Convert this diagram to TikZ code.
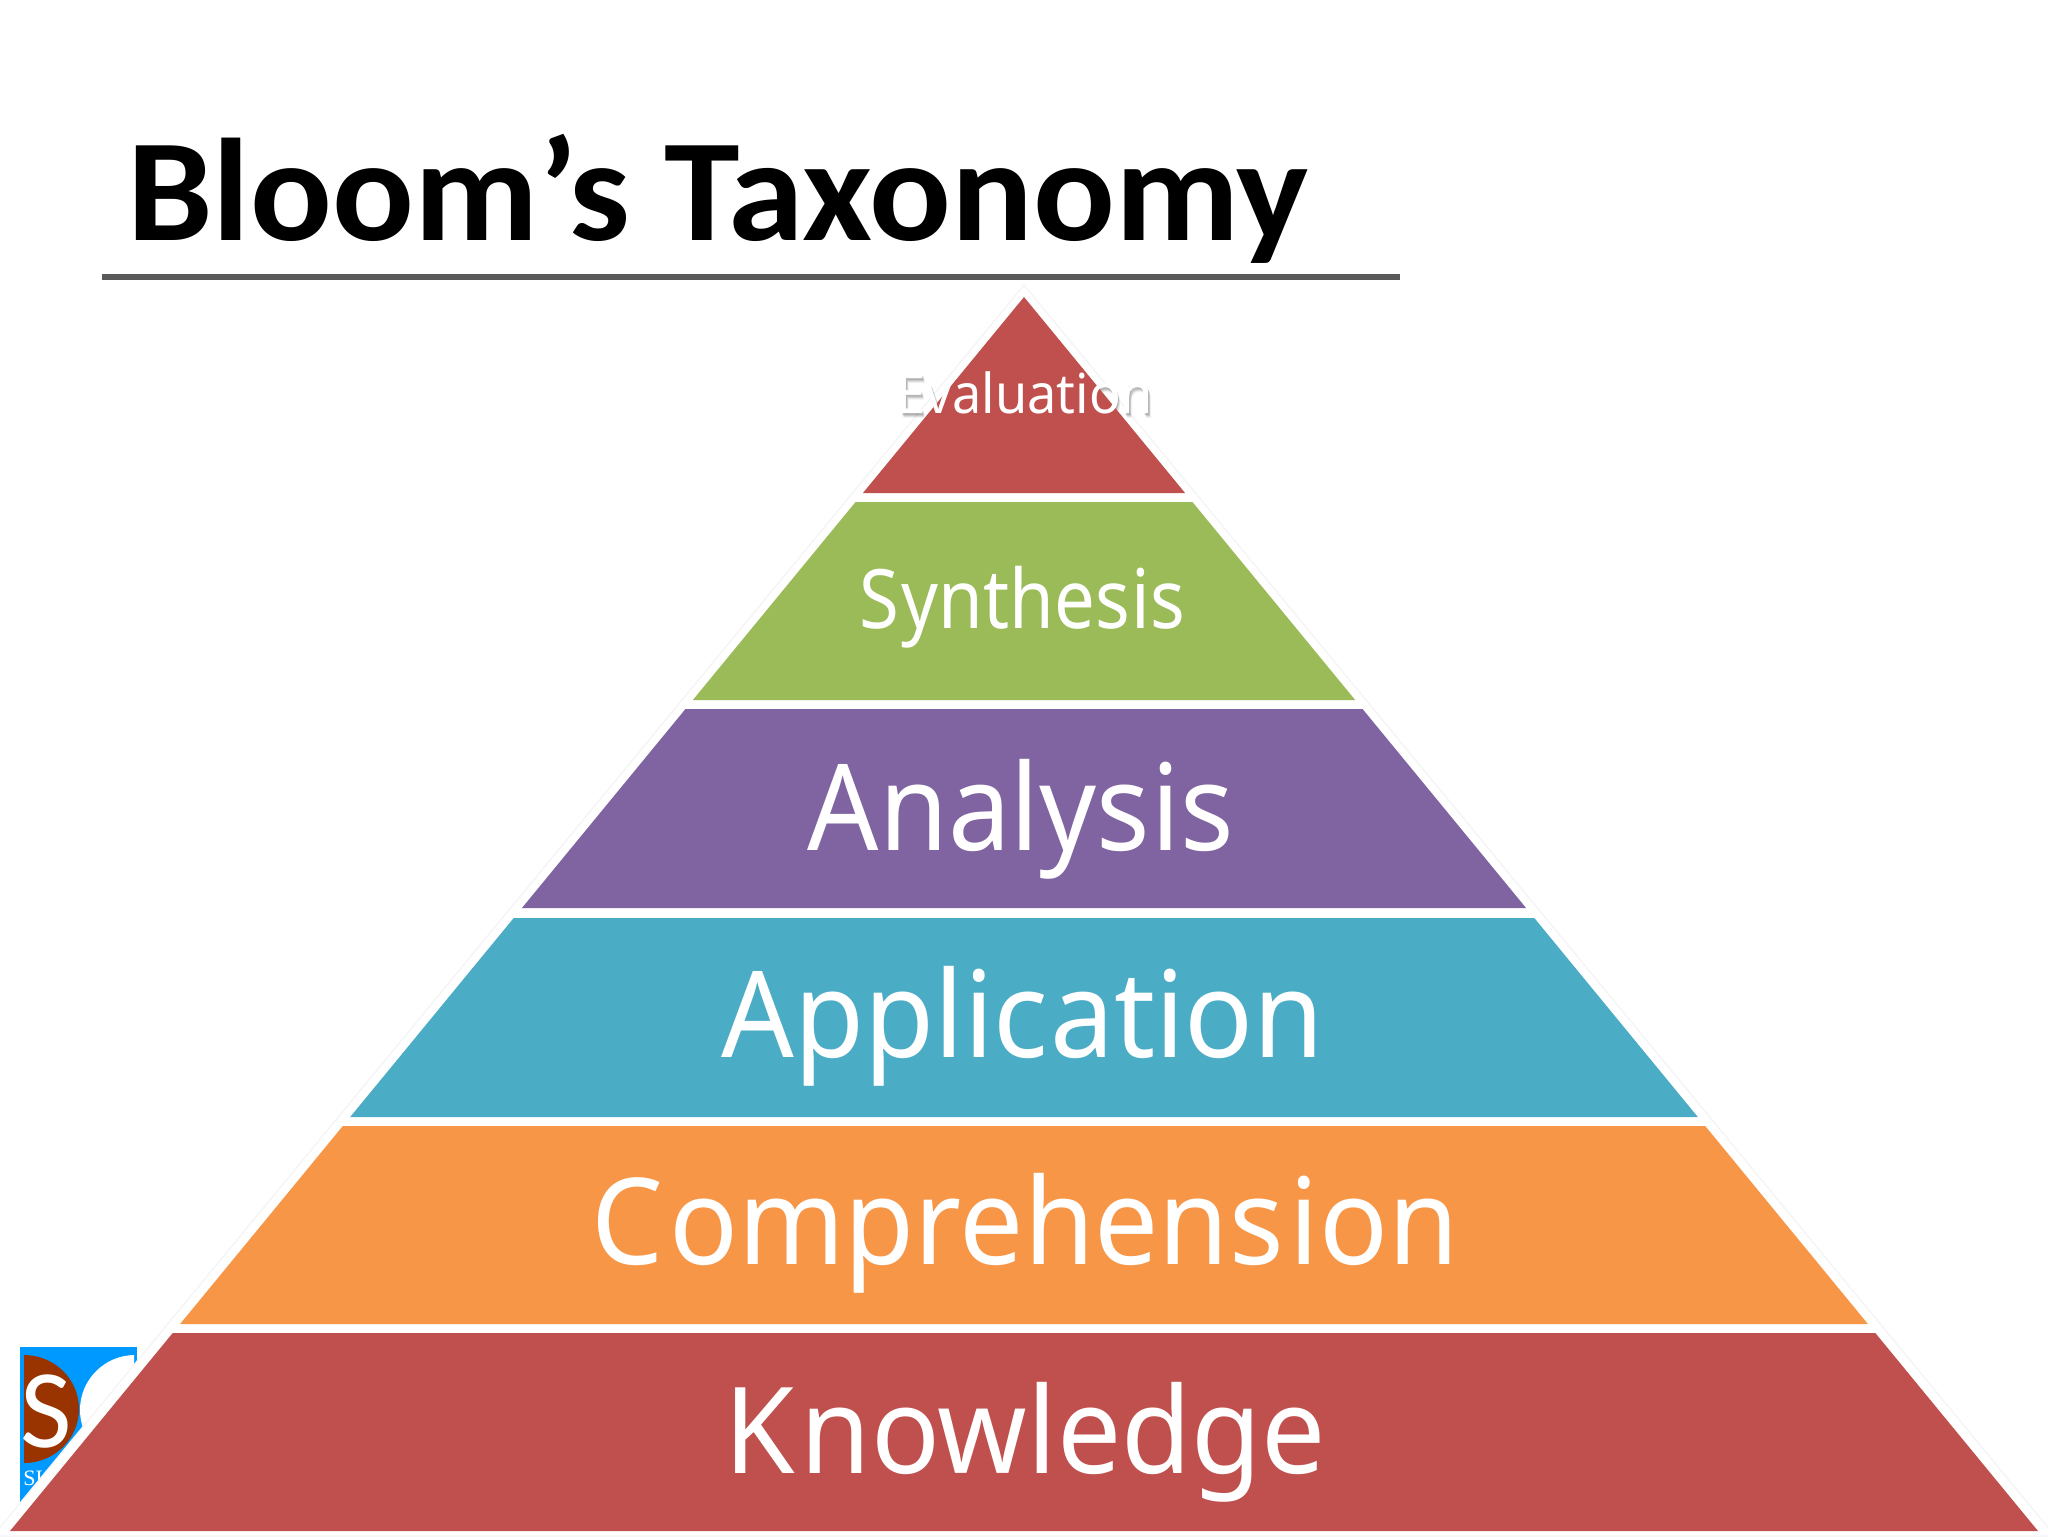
\documentclass[tikz,border=0pt]{standalone}
\usepackage{fontspec}
\setmainfont{Carlito}
\newfontfamily\labfont[FakeStretch=0.95]{Noto Sans}
\newfontfamily\titlefont[FakeStretch=1.045]{Carlito Bold}
\newfontfamily\logofont{Liberation Serif}
\definecolor{cRed}{HTML}{C0504D}
\definecolor{cGreen}{HTML}{9BBB59}
\definecolor{cPurple}{HTML}{8064A2}
\definecolor{cTeal}{HTML}{4BACC6}
\definecolor{cOrange}{HTML}{F79646}
\definecolor{cBlue}{HTML}{0099FF}
\definecolor{cBrown}{HTML}{993300}
\definecolor{cRule}{HTML}{595959}
\tikzset{
  lab/.style={anchor=base,inner sep=0pt,text=white},
}
% layer: colour, top y, bottom y
\newcommand{\pyrlayer}[3]{\fill[#1] (1024-0.8217*#2+0.8217*297,#2) -- (1024+0.8217*#2-0.8217*297,#2) -- (1024+0.8217*#3-0.8217*297,#3) -- (1024-0.8217*#3+0.8217*297,#3) -- cycle;}
\begin{document}
\begin{tikzpicture}[x=0.5pt,y=-0.5pt]
\useasboundingbox (0,0) rectangle (2048,1536);
\fill[white] (0,0) rectangle (2048,1536);
% logo
\begin{scope}
  \clip (20,1347) rectangle (137,1510);
  \fill[cBlue] (20,1347) rectangle (137,1510);
  \begin{scope}
    \clip (24,1350) rectangle (134,1500);
    \fill[cBrown] (24,1409) ellipse (55 and 54);
    \fill[white] (135,1410) circle (55);
  \end{scope}
  \node[lab,font=\fontsize{56}{56}\selectfont] (logoS) at (46,1447) {S};
  \node[anchor=base west,inner sep=0pt,text=white,font=\logofont\fontsize{11}{11}\selectfont] (logoT) at (23,1485) {SK};
\end{scope}
% pale outer triangle
\fill[white,draw=black!4,line width=0.7pt] (1024,285) -- (2055,1536) -- (-7,1536) -- cycle;
% evaluation shadow
\foreach \o/\a in {2/0.10,3/0.10,4/0.08,5/0.05}{
  \node[lab,text=black,opacity=\a,font=\labfont\fontsize{27.5}{27.5}\selectfont] at (1025+\o/2,413+\o) {Evaluation};
}
\node[lab,font=\labfont\fontsize{27.5}{27.5}\selectfont] (evalBack) at (1025,413) {Evaluation};
% layers
\pyrlayer{cRed}{297}{493}
\pyrlayer{cGreen}{502}{700}
\pyrlayer{cPurple}{709}{908}
\pyrlayer{cTeal}{918}{1117}
\pyrlayer{cOrange}{1126}{1324}
\pyrlayer{cRed}{1333}{1531}
% title
\node[anchor=base west,inner sep=0pt,text=black,font=\titlefont\fontsize{73}{73}\selectfont] (title) at (127,240) {Bloom’s Taxonomy};
\draw[cRule,line width=3pt] (102,277) -- (1400,277);
% labels
\node[lab,font=\labfont\fontsize{27.5}{27.5}\selectfont] (eval) at (1025,413) {Evaluation};
\node[lab,font=\labfont\fontsize{41}{41}\selectfont] (syn) at (1022,628) {\scalebox{0.93}[1]{S\kern1.5pt ynthes\kern1pt is}};
\node[lab,font=\labfont\fontsize{60}{60}\selectfont] (ana) at (1021,850) {\scalebox{0.98}[1]{Analys\kern1pt is}};
\node[lab,font=\labfont\fontsize{60}{60}\selectfont] (app) at (1023,1057) {Applic\kern1pt ation};
\node[lab,font=\labfont\fontsize{60}{60}\selectfont] (com) at (1025,1264) {C\kern3pt omprehens\kern3pt ion};
\node[lab,font=\labfont\fontsize{60}{60}\selectfont] (kno) at (1025,1473) {K\kern3pt nowledge};
\end{tikzpicture}
\end{document}
